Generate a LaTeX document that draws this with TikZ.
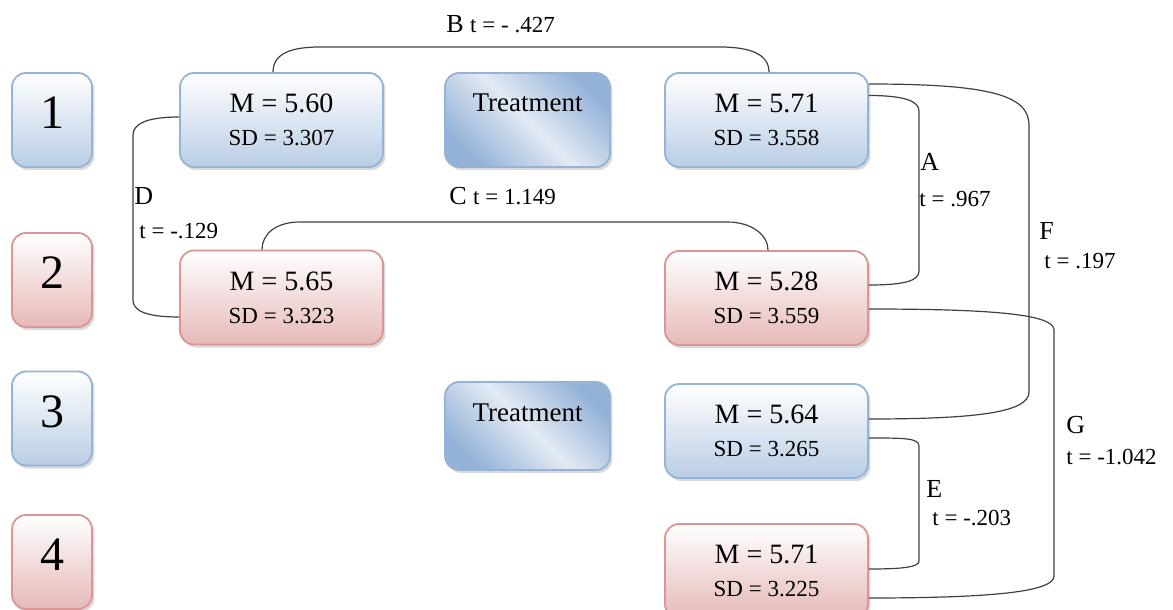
\documentclass[tikz,border=0pt]{standalone}
\usepackage{fontspec}
\setmainfont{Liberation Serif}
\usetikzlibrary{shadows}
\definecolor{boxblue}{HTML}{95B3D7}
\definecolor{fillblue}{HTML}{B9CDE5}
\definecolor{boxpink}{HTML}{D99694}
\definecolor{fillpink}{HTML}{E6B9B8}
\definecolor{treatblue}{HTML}{95B3D7}
\definecolor{treatlight}{HTML}{E2EAF4}
\definecolor{linkgray}{HTML}{404040}
\tikzset{
  cell/.style={draw, rounded corners=7pt, line width=0.9pt, drop shadow={opacity=0.3, shadow xshift=1.2pt, shadow yshift=-1.5pt}},
  bluecell/.style={cell, draw=boxblue, top color=white, bottom color=fillblue},
  pinkcell/.style={cell, draw=boxpink, top color=white, bottom color=fillpink},
  groupno/.style={minimum width=40pt, minimum height=47pt, text depth=7pt, font=\fontsize{24}{24}\selectfont},
  statcell/.style={minimum width=101.5pt, minimum height=47pt, align=center},
  treatcell/.style={cell, draw=boxblue, minimum width=82.5pt, left color=treatblue, right color=treatblue, middle color=treatlight, shading angle=135},
  treattext/.style={font=\fontsize{13.5}{14}\selectfont},
  link/.style={draw=linkgray, line width=0.6pt},
  pairtag/.style={anchor=base west, inner sep=0pt, font=\fontsize{13}{14}\selectfont},
  tvalue/.style={anchor=base west, inner sep=0pt, font=\fontsize{11.5}{12}\selectfont}
}
\newcommand{\stat}[2]{{\fontsize{14}{16}\selectfont M = #1}\\[4.5pt]{\fontsize{11.5}{13}\selectfont SD = #2}}

\begin{document}
\begin{tikzpicture}[x=0.5pt, y=-0.5pt]
  \useasboundingbox (0,0) rectangle (1173,610);

  % group numbers
  \node[bluecell, groupno] (g1) at (52,120) {1};
  \node[pinkcell, groupno] (g2) at (52,280) {2};
  \node[bluecell, groupno] (g3) at (52,418.5) {3};
  \node[pinkcell, groupno] (g4) at (52,562) {4};

  % means
  \node[bluecell, statcell] (pre1) at (281.5,120) {\stat{5.60}{3.307}};
  \node[pinkcell, statcell] (pre2) at (281.5,297.5) {\stat{5.65}{3.323}};
  \node[bluecell, statcell] (post1) at (766.5,120) {\stat{5.71}{3.558}};
  \node[pinkcell, statcell] (post2) at (766.5,298) {\stat{5.28}{3.559}};
  \node[bluecell, statcell] (post3) at (766.5,431) {\stat{5.64}{3.265}};
  \node[pinkcell, statcell] (post4) at (766.5,571) {\stat{5.71}{3.225}};

  \node[treatcell, minimum height=47pt, label={[treattext, yshift=8.5pt]center:Treatment}] (treat1) at (527.5,120) {};
  \node[treatcell, minimum height=44pt, label={[treattext, yshift=6.5pt]center:Treatment}] (treat2) at (527.5,426) {};

  % comparisons
  \draw[link] ([xshift=-4.25pt]pre1.north) .. controls +(0,-18) and +(-30,0) .. (320,47) -- (720,47) .. controls +(30,0) and +(0,-18) .. ([xshift=1.25pt]post1.north);
  \draw[link] ([xshift=-9.75pt]pre2.north) .. controls +(0,-15) and +(-25,0) .. (300,222) -- (727,222) .. controls +(25,0) and +(0,-15) .. ([xshift=0.75pt]post2.north);
  \draw[link] ([yshift=1.5pt]pre1.west) .. controls +(-35,0) and +(0,-10) .. (133,135) -- (133,300) .. controls +(0,10) and +(-35,0) .. ([yshift=-9.75pt]pre2.west);
  \draw[link] ([yshift=12.25pt]post1.east) .. controls +(35,0) and +(0,-10) .. (919,111) -- (919,271) .. controls +(0,10) and +(35,0) .. ([yshift=6.5pt]post2.east);
  \draw[link] ([yshift=18pt]post1.east) .. controls +(120,0) and +(0,-30) .. (1029,125) -- (1029,392) .. controls +(0,20) and +(110,0) .. ([yshift=6pt]post3.east);
  \draw[link] ([yshift=-5.5pt]post2.east) .. controls +(130,0) and +(0,-15) .. (1054,330) -- (1054,576) .. controls +(0,15) and +(130,0) .. ([yshift=-13.5pt]post4.east);
  \draw[link] ([yshift=-3.5pt]post3.east) .. controls +(35,0) and +(0,-8) .. (919,446) -- (919,561) .. controls +(0,6) and +(35,0) .. ([yshift=1pt]post4.east);

  % t values
  \node[pairtag] (tagB) at (446,33) {B \fontsize{11.5}{12}\selectfont t = - .427};
  \node[pairtag] (tagC) at (449,205) {C \fontsize{11.5}{12}\selectfont t = 1.149};
  \node[pairtag] (tagD) at (134,205) {D};
  \node[tvalue] (tD) at (139,238) {t = -.129};
  \node[pairtag] (tagA) at (920,170) {A};
  \node[tvalue] (tA) at (919,206) {t = .967};
  \node[pairtag] (tagF) at (1039,239) {F};
  \node[tvalue] (tF) at (1044,268) {t = .197};
  \node[pairtag] (tagG) at (1066,433) {G};
  \node[tvalue] (tG) at (1066,464) {t = -1.042};
  \node[pairtag] (tagE) at (926,497) {E};
  \node[tvalue] (tE) at (932,525) {t = -.203};
\end{tikzpicture}
\end{document}
